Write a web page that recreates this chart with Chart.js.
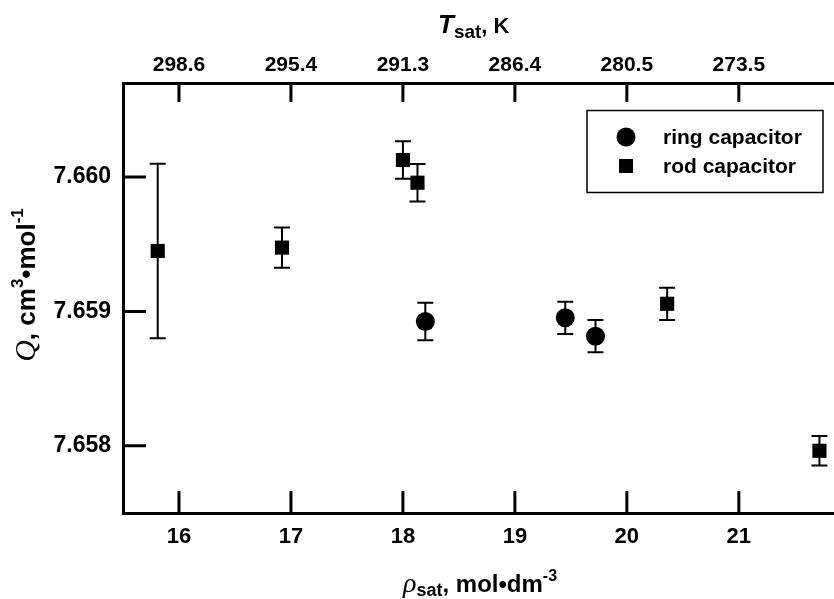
<!DOCTYPE html>
<html>
<head>
<meta charset="utf-8">
<script src="https://cdn.jsdelivr.net/npm/chart.js@4"></script>
<style>
  html, body { margin: 0; padding: 0; background: #fff; overflow: hidden; }
  #wrap { width: 834px; height: 599px; }
</style>
</head>
<body>
<div id="wrap"><canvas id="chart" width="834" height="599"></canvas></div>
<script>
// Data
const ringRho = [18.20, 19.45, 19.72];
const ringQ = [7.658925, 7.658953, 7.658816];
const ringErr = [0.00014, 0.00012, 0.00012];

const rodRho = [15.81, 16.92, 18.00, 18.13, 20.36, 21.72];
const rodQ = [7.65945, 7.659475, 7.660127, 7.659958, 7.659057, 7.657963];
const rodErr = [0.00065, 0.00015, 0.00014, 0.00014, 0.00012, 0.00011];

// Axis ticks
const rhoTicks = [16, 17, 18, 19, 20, 21];
const tempTicks = ["298.6", "295.4", "291.3", "286.4", "280.5", "273.5"];
const qTicks = [7.658, 7.659, 7.660];

const FONT = "'Liberation Sans', Arial, sans-serif";
Chart.defaults.font.family = FONT;
Chart.defaults.font.weight = "bold";
Chart.defaults.color = "#000";

const toPoints = (xs, ys) => xs.map((x, i) => ({ x: x, y: ys[i] }));

// Draw text pieces in a row: [text, font, yShift]
function drawRuns(ctx, runs, x, y) {
  let cx = x;
  runs.forEach(([txt, font, dy]) => {
    ctx.font = font;
    ctx.fillText(txt, cx, y + dy);
    cx += ctx.measureText(txt).width;
  });
}
function runsWidth(ctx, runs) {
  let w = 0;
  runs.forEach(([txt, font]) => { ctx.font = font; w += ctx.measureText(txt).width; });
  return w;
}

// keep the plot box fixed: no extra padding for edge labels
function fixPadding(s) {
  s.paddingLeft = 0; s.paddingRight = 0;
  s.paddingTop = 0; s.paddingBottom = 0;
}

// Error bars under the markers
const errorBars = {
  id: "errorBars",
  beforeDatasetsDraw(chart) {
    const ctx = chart.ctx;
    const yScale = chart.scales.y;
    ctx.save();
    ctx.strokeStyle = "#000";
    ctx.lineWidth = 2;
    chart.data.datasets.forEach((ds, di) => {
      const meta = chart.getDatasetMeta(di);
      meta.data.forEach((el, i) => {
        const v = ds.data[i].y, e = ds.errors[i];
        const yt = yScale.getPixelForValue(v + e);
        const yb = yScale.getPixelForValue(v - e);
        ctx.beginPath();
        ctx.moveTo(el.x, yt); ctx.lineTo(el.x, yb);
        ctx.moveTo(el.x - 8, yt); ctx.lineTo(el.x + 8, yt);
        ctx.moveTo(el.x - 8, yb); ctx.lineTo(el.x + 8, yb);
        ctx.stroke();
      });
    });
    ctx.restore();
  }
};

// Inward tick marks, titles and legend box
const decorations = {
  id: "decorations",
  afterDraw(chart) {
    const ctx = chart.ctx;
    const { x, y } = chart.scales;
    const area = chart.chartArea;
    ctx.save();
    ctx.strokeStyle = "#000";
    ctx.lineWidth = 3;
    ctx.beginPath();
    rhoTicks.forEach(v => {
      const px = x.getPixelForValue(v);
      ctx.moveTo(px, area.bottom); ctx.lineTo(px, area.bottom - 22);
      ctx.moveTo(px, area.top); ctx.lineTo(px, area.top + 19);
    });
    qTicks.forEach(v => {
      const py = y.getPixelForValue(v);
      ctx.moveTo(area.left, py); ctx.lineTo(area.left + 23, py);
    });
    ctx.stroke();

    ctx.fillStyle = "#000";
    ctx.textBaseline = "alphabetic";
    ctx.textAlign = "left";

    // top title: T_sat, K
    const topRuns = [
      ["T", "italic bold 26px " + FONT, 0],
      ["sat", "bold 19px " + FONT, 5],
      [", K", "bold 22px " + FONT, 0]
    ];
    drawRuns(ctx, topRuns, 438, 33);

    // bottom title: rho_sat, mol•dm-3
    const botRuns = [
      ["\u03C1", "italic 28px 'Liberation Serif', serif", 0],
      ["sat", "bold 18px " + FONT, 4],
      [", mol\u2022dm", "bold 24px " + FONT, 0],
      ["-3", "bold 16px " + FONT, -11]
    ];
    drawRuns(ctx, botRuns, 403, 592);

    // left title: Q, cm3•mol-1 (rotated)
    const leftRuns = [
      ["Q", "italic 30px 'Liberation Serif', serif", 0],
      [", cm", "bold 26px " + FONT, 0],
      ["3", "bold 17px " + FONT, -12],
      ["\u2022mol", "bold 26px " + FONT, 0],
      ["-1", "bold 17px " + FONT, -12]
    ];
    ctx.save();
    ctx.translate(35, 285);
    ctx.rotate(-Math.PI / 2);
    drawRuns(ctx, leftRuns, -runsWidth(ctx, leftRuns) / 2, 0);
    ctx.restore();

    // legend
    ctx.lineWidth = 1.5;
    ctx.strokeRect(587, 110.5, 236, 82);
    ctx.beginPath();
    ctx.arc(626, 137, 9.5, 0, Math.PI * 2);
    ctx.fill();
    ctx.fillRect(619, 159, 14, 14);
    ctx.font = "bold 21px " + FONT;
    ctx.textBaseline = "middle";
    ctx.fillText("ring capacitor", 663, 138);
    ctx.fillText("rod capacitor", 663, 167);
    ctx.restore();
  }
};

const ctx = document.getElementById("chart").getContext("2d");
const chart = new Chart(ctx, {
  type: "scatter",
  data: {
    datasets: [
      {
        label: "ring capacitor",
        data: toPoints(ringRho, ringQ),
        errors: ringErr,
        pointStyle: "circle",
        pointRadius: 9.5,
        pointHoverRadius: 9.5,
        backgroundColor: "#000",
        borderWidth: 0
      },
      {
        label: "rod capacitor",
        data: toPoints(rodRho, rodQ),
        errors: rodErr,
        pointStyle: "rect",
        pointRadius: 10,
        pointHoverRadius: 10,
        backgroundColor: "#000",
        borderWidth: 0
      }
    ]
  },
  options: {
    responsive: false,
    devicePixelRatio: 1,
    animation: false,
    layout: { padding: 0, autoPadding: false },
    plugins: {
      legend: { display: false },
      tooltip: { enabled: false }
    },
    scales: {
      x: {
        type: "linear",
        position: "bottom",
        min: 15.5,
        max: 21.85,
        afterBuildTicks: s => { s.ticks = rhoTicks.map(v => ({ value: v })); },
        afterFit: s => { s.height = 86; fixPadding(s); },
        grid: { display: false, drawTicks: false },
        border: { display: true, width: 3, color: "#000" },
        ticks: {
          padding: 11,
          maxRotation: 0,
          autoSkip: false,
          font: { size: 22, weight: "bold" },
          callback: v => String(v)
        }
      },
      xTop: {
        type: "linear",
        position: "top",
        min: 15.5,
        max: 21.85,
        afterBuildTicks: s => { s.ticks = rhoTicks.map(v => ({ value: v })); },
        afterFit: s => { s.height = 83; fixPadding(s); },
        grid: { display: false, drawTicks: false },
        border: { display: true, width: 3, color: "#000" },
        ticks: {
          padding: 5,
          maxRotation: 0,
          autoSkip: false,
          font: { size: 21, weight: "bold" },
          callback: (v, i) => tempTicks[i]
        }
      },
      y: {
        type: "linear",
        position: "left",
        min: 7.6575,
        max: 7.6607,
        afterBuildTicks: s => { s.ticks = qTicks.map(v => ({ value: v })); },
        afterFit: s => { s.width = 123; fixPadding(s); },
        grid: { display: false, drawTicks: false },
        border: { display: true, width: 3, color: "#000" },
        ticks: {
          padding: 12,
          autoSkip: false,
          font: { size: 23, weight: "bold" },
          callback: v => v.toFixed(3)
        }
      }
    }
  },
  plugins: [errorBars, decorations]
});
</script>
</body>
</html>
